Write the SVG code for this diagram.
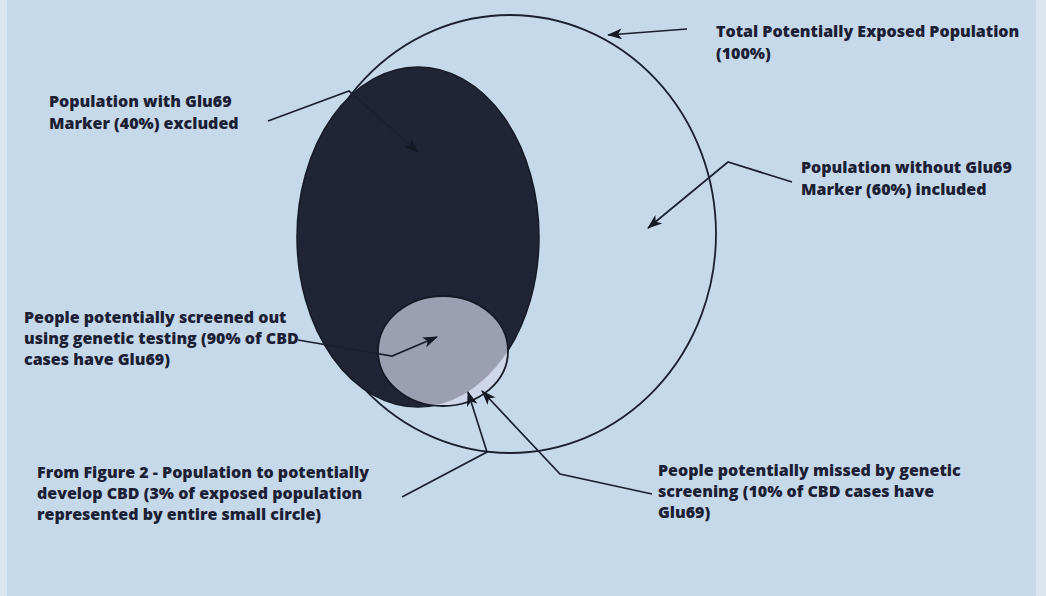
<svg xmlns="http://www.w3.org/2000/svg" width="1046" height="596" viewBox="0 0 1046 596">
  <style>
    .lbl { font-family: "Open Sans", "Liberation Sans", Arial, sans-serif; font-weight: 800; font-size: 16px; fill: #1b2035; }
    .con { fill: none; stroke: #1b2030; stroke-width: 1.7; marker-end: url(#ah); }
  </style>
  <defs>
    <marker id="ah" markerWidth="15" markerHeight="11" refX="14" refY="5.5" orient="auto" markerUnits="userSpaceOnUse">
      <path d="M0,0 L15,5.5 L0,11 L4,5.5 z" fill="#161a26"/>
    </marker>
    <clipPath id="darkClip">
      <ellipse cx="418" cy="237" rx="121" ry="170"/>
    </clipPath>
  </defs>

  <rect x="0" y="0" width="1046" height="596" fill="#c6d9ea"/>
  <rect x="0" y="0" width="7" height="596" fill="#dce6ef"/>
  <rect x="1036" y="0" width="10" height="596" fill="#dde6ef"/>

  <g id="total-population">
    <ellipse cx="510" cy="234" rx="206" ry="219" fill="none" stroke="#1b2030" stroke-width="1.8"/>
  </g>

  <g id="glu69-population">
    <ellipse cx="418" cy="237" rx="121" ry="170" fill="#1f2536" stroke="#161a26" stroke-width="1.5"/>
  </g>

  <g id="cbd-population">
    <ellipse cx="443" cy="351" rx="65" ry="55" fill="#cfd6ea" stroke="none"/>
    <ellipse cx="443" cy="351" rx="65" ry="55" fill="#9c9fb2" clip-path="url(#darkClip)"/>
    <ellipse cx="443" cy="351" rx="65" ry="55" fill="none" stroke="#161a26" stroke-width="1.8"/>
  </g>

  <g id="connectors">
    <line class="con" x1="687" y1="29" x2="608" y2="35"/>
    <polyline class="con" points="268,121 349,91 418,152"/>
    <polyline class="con" points="792,182 728,162 648,228"/>
    <polyline class="con" points="298,340 392,356 437,337"/>
    <polyline class="con" points="402,497 487,452 468,392"/>
    <polyline class="con" points="652,494 560,474 482,391"/>
  </g>

  <g id="label-total">
    <text class="lbl" x="716" y="37">Total Potentially Exposed Population</text>
    <text class="lbl" x="716" y="59">(100%)</text>
  </g>
  <g id="label-glu69">
    <text class="lbl" x="49" y="107">Population with Glu69</text>
    <text class="lbl" x="49" y="129">Marker (40%) excluded</text>
  </g>
  <g id="label-without">
    <text class="lbl" x="801" y="173">Population without Glu69</text>
    <text class="lbl" x="801" y="195">Marker (60%) included</text>
  </g>
  <g id="label-screened">
    <text class="lbl" x="24" y="323">People potentially screened out</text>
    <text class="lbl" x="24" y="344">using genetic testing (90% of CBD</text>
    <text class="lbl" x="24" y="365">cases have Glu69)</text>
  </g>
  <g id="label-figure2">
    <text class="lbl" x="37" y="478">From Figure 2 - Population to potentially</text>
    <text class="lbl" x="37" y="499">develop CBD (3% of exposed population</text>
    <text class="lbl" x="37" y="520">represented by entire small circle)</text>
  </g>
  <g id="label-missed">
    <text class="lbl" x="658" y="476">People potentially missed by genetic</text>
    <text class="lbl" x="658" y="497">screening (10% of CBD cases have</text>
    <text class="lbl" x="658" y="518">Glu69)</text>
  </g>
</svg>
